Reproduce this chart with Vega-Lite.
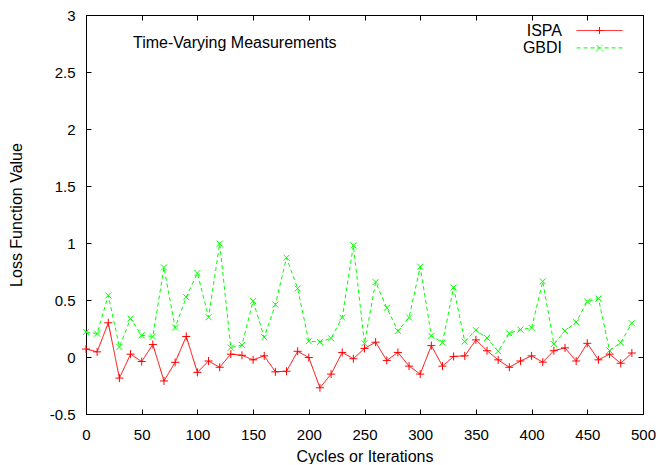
{
  "$schema": "https://vega.github.io/schema/vega-lite/v6.json",
  "width": 557,
  "height": 399,
  "padding": {"left": 8, "top": 8, "right": 5, "bottom": 0},
  "config": {
    "font": "Liberation Sans",
    "view": {"stroke": "black", "strokeWidth": 1},
    "axis": {
      "grid": false,
      "domainColor": "black",
      "tickColor": "black",
      "labelColor": "black",
      "titleColor": "black",
      "labelFontSize": 15,
      "titleFontSize": 16,
      "titleFontWeight": "normal",
      "labelFont": "Liberation Sans",
      "titleFont": "Liberation Sans",
      "tickSize": -5,
      "labelFlush": false,
      "labelOverlap": false,
      "labelExpr": "'' + datum.value"
    }
  },
  "title": {
    "text": "Time-Varying Measurements",
    "anchor": "start",
    "frame": "group",
    "fontSize": 16,
    "fontWeight": "normal",
    "font": "Liberation Sans",
    "color": "black",
    "dx": 47,
    "dy": 47
  },
  "data": {
    "values": [
      {"x": 0, "series": "ISPA", "value": 0.07},
      {"x": 10, "series": "ISPA", "value": 0.045},
      {"x": 20, "series": "ISPA", "value": 0.3},
      {"x": 30, "series": "ISPA", "value": -0.185},
      {"x": 40, "series": "ISPA", "value": 0.025},
      {"x": 50, "series": "ISPA", "value": -0.04},
      {"x": 60, "series": "ISPA", "value": 0.11},
      {"x": 70, "series": "ISPA", "value": -0.21},
      {"x": 80, "series": "ISPA", "value": -0.047},
      {"x": 90, "series": "ISPA", "value": 0.18},
      {"x": 100, "series": "ISPA", "value": -0.135},
      {"x": 110, "series": "ISPA", "value": -0.035},
      {"x": 120, "series": "ISPA", "value": -0.09},
      {"x": 130, "series": "ISPA", "value": 0.025},
      {"x": 140, "series": "ISPA", "value": 0.015},
      {"x": 150, "series": "ISPA", "value": -0.025},
      {"x": 160, "series": "ISPA", "value": 0.01},
      {"x": 170, "series": "ISPA", "value": -0.13},
      {"x": 180, "series": "ISPA", "value": -0.125},
      {"x": 190, "series": "ISPA", "value": 0.05},
      {"x": 200, "series": "ISPA", "value": -0.005},
      {"x": 210, "series": "ISPA", "value": -0.27},
      {"x": 220, "series": "ISPA", "value": -0.15},
      {"x": 230, "series": "ISPA", "value": 0.04},
      {"x": 240, "series": "ISPA", "value": -0.015},
      {"x": 250, "series": "ISPA", "value": 0.075},
      {"x": 260, "series": "ISPA", "value": 0.13},
      {"x": 270, "series": "ISPA", "value": -0.03},
      {"x": 280, "series": "ISPA", "value": 0.04},
      {"x": 290, "series": "ISPA", "value": -0.08},
      {"x": 300, "series": "ISPA", "value": -0.15},
      {"x": 310, "series": "ISPA", "value": 0.1},
      {"x": 320, "series": "ISPA", "value": -0.08},
      {"x": 330, "series": "ISPA", "value": 0.005},
      {"x": 340, "series": "ISPA", "value": 0.01},
      {"x": 350, "series": "ISPA", "value": 0.15},
      {"x": 360, "series": "ISPA", "value": 0.055},
      {"x": 370, "series": "ISPA", "value": -0.025},
      {"x": 380, "series": "ISPA", "value": -0.09},
      {"x": 390, "series": "ISPA", "value": -0.035},
      {"x": 400, "series": "ISPA", "value": 0.01},
      {"x": 410, "series": "ISPA", "value": -0.045},
      {"x": 420, "series": "ISPA", "value": 0.055},
      {"x": 430, "series": "ISPA", "value": 0.08},
      {"x": 440, "series": "ISPA", "value": -0.035},
      {"x": 450, "series": "ISPA", "value": 0.12},
      {"x": 460, "series": "ISPA", "value": -0.025},
      {"x": 470, "series": "ISPA", "value": 0.025},
      {"x": 480, "series": "ISPA", "value": -0.055},
      {"x": 490, "series": "ISPA", "value": 0.035},
      {"x": 0, "series": "GBDI", "value": 0.22},
      {"x": 10, "series": "GBDI", "value": 0.205},
      {"x": 20, "series": "GBDI", "value": 0.54},
      {"x": 30, "series": "GBDI", "value": 0.088},
      {"x": 40, "series": "GBDI", "value": 0.337},
      {"x": 50, "series": "GBDI", "value": 0.19},
      {"x": 60, "series": "GBDI", "value": 0.18},
      {"x": 70, "series": "GBDI", "value": 0.786},
      {"x": 80, "series": "GBDI", "value": 0.258},
      {"x": 90, "series": "GBDI", "value": 0.525},
      {"x": 100, "series": "GBDI", "value": 0.736},
      {"x": 110, "series": "GBDI", "value": 0.349},
      {"x": 120, "series": "GBDI", "value": 0.994},
      {"x": 130, "series": "GBDI", "value": 0.082},
      {"x": 140, "series": "GBDI", "value": 0.106},
      {"x": 150, "series": "GBDI", "value": 0.49},
      {"x": 160, "series": "GBDI", "value": 0.173},
      {"x": 170, "series": "GBDI", "value": 0.46},
      {"x": 180, "series": "GBDI", "value": 0.871},
      {"x": 190, "series": "GBDI", "value": 0.601},
      {"x": 200, "series": "GBDI", "value": 0.138},
      {"x": 210, "series": "GBDI", "value": 0.132},
      {"x": 220, "series": "GBDI", "value": 0.164},
      {"x": 230, "series": "GBDI", "value": 0.346},
      {"x": 240, "series": "GBDI", "value": 0.979},
      {"x": 250, "series": "GBDI", "value": 0.12},
      {"x": 260, "series": "GBDI", "value": 0.657},
      {"x": 270, "series": "GBDI", "value": 0.431},
      {"x": 280, "series": "GBDI", "value": 0.229},
      {"x": 290, "series": "GBDI", "value": 0.346},
      {"x": 300, "series": "GBDI", "value": 0.792},
      {"x": 310, "series": "GBDI", "value": 0.185},
      {"x": 320, "series": "GBDI", "value": 0.126},
      {"x": 330, "series": "GBDI", "value": 0.61},
      {"x": 340, "series": "GBDI", "value": 0.135},
      {"x": 350, "series": "GBDI", "value": 0.235},
      {"x": 360, "series": "GBDI", "value": 0.167},
      {"x": 370, "series": "GBDI", "value": 0.05},
      {"x": 380, "series": "GBDI", "value": 0.208},
      {"x": 390, "series": "GBDI", "value": 0.24},
      {"x": 400, "series": "GBDI", "value": 0.255},
      {"x": 410, "series": "GBDI", "value": 0.663},
      {"x": 420, "series": "GBDI", "value": 0.114},
      {"x": 430, "series": "GBDI", "value": 0.229},
      {"x": 440, "series": "GBDI", "value": 0.305},
      {"x": 450, "series": "GBDI", "value": 0.487},
      {"x": 460, "series": "GBDI", "value": 0.513},
      {"x": 470, "series": "GBDI", "value": 0.056},
      {"x": 480, "series": "GBDI", "value": 0.126},
      {"x": 490, "series": "GBDI", "value": 0.296}
    ]
  },
  "layer": [
    {
      "mark": {"type": "line", "strokeWidth": 1},
      "encoding": {
        "x": {
          "field": "x", "type": "quantitative",
          "scale": {"domain": [0, 500], "nice": false, "zero": false},
          "axis": {"orient": "bottom", "title": "Cycles or Iterations", "values": [0, 50, 100, 150, 200, 250, 300, 350, 400, 450, 500], "labelPadding": 18, "titlePadding": 6}
        },
        "y": {
          "field": "value", "type": "quantitative",
          "scale": {"domain": [-0.5, 3], "nice": false, "zero": false},
          "axis": {"orient": "left", "title": "Loss Function Value", "values": [-0.5, 0, 0.5, 1, 1.5, 2, 2.5, 3], "labelPadding": 16, "titlePadding": 25}
        },
        "color": {
          "field": "series", "type": "nominal",
          "scale": {"domain": ["ISPA", "GBDI"], "range": ["#ff0000", "#00ff00"]},
          "legend": {
            "title": null,
            "orient": "none",
            "legendX": 504.5,
            "legendY": 6.5,
            "padding": 0,
            "symbolSize": 289,
            "symbolStrokeWidth": 1,
            "labelAlign": "right",
            "labelOffset": -46.5,
            "labelFontSize": 16,
            "labelFont": "Liberation Sans",
            "labelColor": "black",
            "rowPadding": 0.4,
            "encode": {
              "symbols": {
                "update": {
                  "shape": {"signal": "datum.value === 'ISPA' ? 'M-2.7,0L2.7,0M0,-0.42L0,0.42M-0.42,0L0.42,0' : 'M-2.7,0L2.7,0M-0.35,-0.35L0.35,0.35M-0.35,0.35L0.35,-0.35'"}
                }
              }
            }
          }
        },
        "strokeDash": {
          "field": "series", "type": "nominal",
          "scale": {"domain": ["ISPA", "GBDI"], "range": [[1, 0], [4, 3]]}
        }
      }
    },
    {
      "transform": [{"filter": "datum.series === 'ISPA'"}],
      "mark": {"type": "point", "filled": false, "strokeWidth": 1, "opacity": 1, "shape": "M-1,0L1,0M0,-1L0,1", "size": 64},
      "encoding": {
        "x": {
          "field": "x", "type": "quantitative",
          "axis": {"orient": "top", "title": null, "labels": false, "values": [0, 50, 100, 150, 200, 250, 300, 350, 400, 450, 500]}
        },
        "y": {
          "field": "value", "type": "quantitative",
          "axis": {"orient": "right", "title": null, "labels": false, "values": [-0.5, 0, 0.5, 1, 1.5, 2, 2.5, 3]}
        },
        "color": {"field": "series", "type": "nominal"}
      }
    },
    {
      "transform": [{"filter": "datum.series === 'GBDI'"}],
      "mark": {"type": "point", "filled": false, "strokeWidth": 1, "opacity": 1, "shape": "M-0.75,-0.75L0.75,0.75M-0.75,0.75L0.75,-0.75", "size": 64},
      "encoding": {
        "x": {"field": "x", "type": "quantitative", "axis": null},
        "y": {"field": "value", "type": "quantitative", "axis": null},
        "color": {"field": "series", "type": "nominal"}
      }
    }
  ],
  "resolve": {"axis": {"x": "independent", "y": "independent"}}
}
